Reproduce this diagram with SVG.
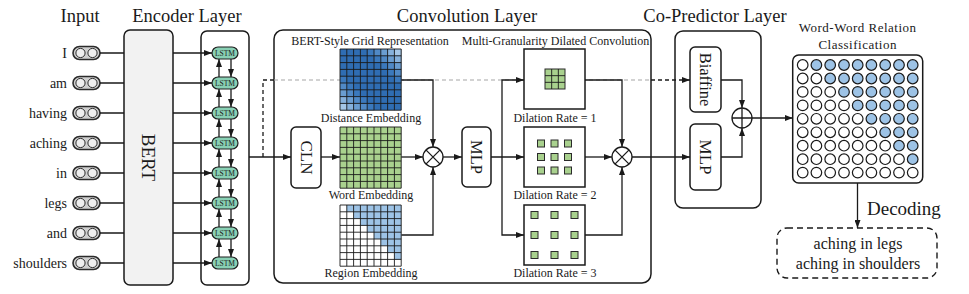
<svg xmlns="http://www.w3.org/2000/svg" xmlns:xlink="http://www.w3.org/1999/xlink" width="969" height="294" viewBox="0 0 969 294">
<style>
text{font-family:"Liberation Serif","Times New Roman",serif;fill:#1a1a1a}
.t{font-size:18.5px;text-anchor:middle}
.w{font-size:14px;text-anchor:end}
.lb{font-size:12px;text-anchor:middle}
.rt{text-anchor:middle;dominant-baseline:central}
.ls{font-size:7.5px;text-anchor:middle}
.ln{fill:none;stroke:#1a1a1a;stroke-width:1.3}
.a{marker-end:url(#ah)}
.box{fill:#fff;stroke:#1a1a1a;stroke-width:1.5}
.pill{fill:#cfcfcf;stroke:#2b2b2b;stroke-width:1.6}
.pc{fill:#efefef;stroke:#2b2b2b;stroke-width:1}
.lstm{fill:#88d0b4;stroke:#1f1f1f;stroke-width:1.2}
.gl{fill:none;stroke:#1a1a1a;stroke-width:0.9}
.gr{fill:#a9d18e;stroke:#2b2b2b;stroke-width:1}
.cw{fill:#fff;stroke:#1a1a1a;stroke-width:1.2}
.cb{fill:#9dc3e6;stroke:#1a1a1a;stroke-width:1.2}
.dsh{stroke-dasharray:4 3}
.op{fill:#fff;stroke:#1a1a1a;stroke-width:1.3}
</style>
<defs>
<marker id="ah" viewBox="0 0 8 6" refX="8" refY="3" markerWidth="8" markerHeight="6" markerUnits="userSpaceOnUse" orient="auto"><path d="M0,0L8,3L0,6z" fill="#1a1a1a"/></marker>
<path id="grid9" d="M0,0V61.2M6.8,0V61.2M13.6,0V61.2M20.4,0V61.2M27.2,0V61.2M34,0V61.2M40.8,0V61.2M47.6,0V61.2M54.4,0V61.2M61.2,0V61.2M0,0H61.2M0,6.8H61.2M0,13.6H61.2M0,20.4H61.2M0,27.2H61.2M0,34H61.2M0,40.8H61.2M0,47.6H61.2M0,54.4H61.2M0,61.2H61.2"/>
</defs>
<rect width="969" height="294" fill="#fff"/>

<!-- titles -->
<text class="t" x="80" y="22">Input</text>
<text class="t" x="187" y="22">Encoder Layer</text>
<text class="t" x="467" y="22">Convolution Layer</text>
<text class="t" x="715" y="22">Co-Predictor Layer</text>

<!-- containers -->
<g id="bert"><rect x="124" y="30" width="49" height="255" rx="6" fill="#f2f2f2" stroke="#1a1a1a" stroke-width="1.5"/><text class="rt" font-size="19" transform="translate(148.5,157.5) rotate(90)">BERT</text></g>
<g id="lstm-layer"><rect class="box" x="201" y="31" width="48" height="254" rx="6"/></g>
<g id="convolution-layer"><rect class="box" x="274" y="30" width="377" height="253" rx="9"/></g>
<g id="co-predictor-layer"><rect class="box" x="675" y="31" width="86" height="177" rx="8"/></g>

<!-- inputs -->
<g id="in-I"><text class="w" x="67" y="57.5">I</text><rect class="pill" x="73" y="46.5" width="27" height="13" rx="6.5"/><circle class="pc" cx="80.5" cy="53" r="4.6"/><circle class="pc" cx="92.5" cy="53" r="4.6"/></g>
<g id="in-am"><text class="w" x="67" y="87.5">am</text><rect class="pill" x="73" y="76.5" width="27" height="13" rx="6.5"/><circle class="pc" cx="80.5" cy="83" r="4.6"/><circle class="pc" cx="92.5" cy="83" r="4.6"/></g>
<g id="in-having"><text class="w" x="67" y="117.5">having</text><rect class="pill" x="73" y="106.5" width="27" height="13" rx="6.5"/><circle class="pc" cx="80.5" cy="113" r="4.6"/><circle class="pc" cx="92.5" cy="113" r="4.6"/></g>
<g id="in-aching"><text class="w" x="67" y="147.5">aching</text><rect class="pill" x="73" y="136.5" width="27" height="13" rx="6.5"/><circle class="pc" cx="80.5" cy="143" r="4.6"/><circle class="pc" cx="92.5" cy="143" r="4.6"/></g>
<g id="in-in"><text class="w" x="67" y="177.5">in</text><rect class="pill" x="73" y="166.5" width="27" height="13" rx="6.5"/><circle class="pc" cx="80.5" cy="173" r="4.6"/><circle class="pc" cx="92.5" cy="173" r="4.6"/></g>
<g id="in-legs"><text class="w" x="67" y="207.5">legs</text><rect class="pill" x="73" y="196.5" width="27" height="13" rx="6.5"/><circle class="pc" cx="80.5" cy="203" r="4.6"/><circle class="pc" cx="92.5" cy="203" r="4.6"/></g>
<g id="in-and"><text class="w" x="67" y="237.5">and</text><rect class="pill" x="73" y="226.5" width="27" height="13" rx="6.5"/><circle class="pc" cx="80.5" cy="233" r="4.6"/><circle class="pc" cx="92.5" cy="233" r="4.6"/></g>
<g id="in-shoulders"><text class="w" x="67" y="267.5">shoulders</text><rect class="pill" x="73" y="256.5" width="27" height="13" rx="6.5"/><circle class="pc" cx="80.5" cy="263" r="4.6"/><circle class="pc" cx="92.5" cy="263" r="4.6"/></g>

<!-- connectors -->
<g id="connectors">
<path class="ln" d="M100,53H124M100,83H124M100,113H124M100,143H124M100,173H124M100,203H124M100,233H124M100,263H124"/>
<path class="ln a" d="M173,53H212"/><path class="ln a" d="M173,83H212"/><path class="ln a" d="M173,113H212"/><path class="ln a" d="M173,143H212"/><path class="ln a" d="M173,173H212"/><path class="ln a" d="M173,203H212"/><path class="ln a" d="M173,233H212"/><path class="ln a" d="M173,263H212"/>
<path class="ln a" d="M219,77V59"/><path class="ln a" d="M231,59V77"/>
<path class="ln a" d="M219,107V89"/><path class="ln a" d="M231,89V107"/>
<path class="ln a" d="M219,137V119"/><path class="ln a" d="M231,119V137"/>
<path class="ln a" d="M219,167V149"/><path class="ln a" d="M231,149V167"/>
<path class="ln a" d="M219,197V179"/><path class="ln a" d="M231,179V197"/>
<path class="ln a" d="M219,227V209"/><path class="ln a" d="M231,209V227"/>
<path class="ln a" d="M219,257V239"/><path class="ln a" d="M231,239V257"/>
<path class="ln a" d="M249,157H291"/>
<path class="ln dsh" d="M263,157V80H274"/>
<path class="dsh" d="M274,80H651" fill="none" stroke="#a6a6a6" stroke-width="1.2"/>
<path class="ln dsh a" d="M651,80H690"/>
<path class="ln a" d="M321,157H340"/>
<path class="ln a" d="M401.2,80H433V147"/>
<path class="ln a" d="M401.2,157H423"/>
<path class="ln a" d="M401.2,235H433V167"/>
<path class="ln a" d="M443,157H462"/>
<path class="ln a" d="M491,157H524"/>
<path class="ln a" d="M502,157V80H524"/>
<path class="ln a" d="M502,157V235H524"/>
<path class="ln a" d="M585,80H622V147"/>
<path class="ln a" d="M585,157H612"/>
<path class="ln a" d="M585,235H622V167"/>
<path class="ln a" d="M632,157H690"/>
<path class="ln a" d="M721,80H742V108"/>
<path class="ln a" d="M721,157H742V128"/>
<path class="ln a" d="M752,118H792.7"/>
<path class="ln a" d="M857.5,183V228"/>
</g>

<!-- LSTM cells -->
<g id="lstm-cells">
<rect class="lstm" x="212" y="47" width="26" height="12" rx="6"/><text class="ls" x="225" y="55.6">LSTM</text>
<rect class="lstm" x="212" y="77" width="26" height="12" rx="6"/><text class="ls" x="225" y="85.6">LSTM</text>
<rect class="lstm" x="212" y="107" width="26" height="12" rx="6"/><text class="ls" x="225" y="115.6">LSTM</text>
<rect class="lstm" x="212" y="137" width="26" height="12" rx="6"/><text class="ls" x="225" y="145.6">LSTM</text>
<rect class="lstm" x="212" y="167" width="26" height="12" rx="6"/><text class="ls" x="225" y="175.6">LSTM</text>
<rect class="lstm" x="212" y="197" width="26" height="12" rx="6"/><text class="ls" x="225" y="205.6">LSTM</text>
<rect class="lstm" x="212" y="227" width="26" height="12" rx="6"/><text class="ls" x="225" y="235.6">LSTM</text>
<rect class="lstm" x="212" y="257" width="26" height="12" rx="6"/><text class="ls" x="225" y="265.6">LSTM</text>
</g>

<!-- convolution layer contents -->
<text class="lb" x="370" y="45">BERT-Style Grid Representation</text>
<text class="lb" x="555.5" y="45">Multi-Granularity Dilated Convolution</text>

<g id="cln"><rect class="box" x="291" y="127" width="30" height="61" rx="5"/><text class="rt" font-size="17" transform="translate(306,157.5) rotate(90)">CLN</text></g>

<g id="distance-embedding">
<g transform="translate(340,49)">
<rect width="61.2" height="61.2" fill="#2f6db3"/>
<path fill="#3b79bd" d="M27.2,0h6.8v6.8h-6.8zM34,6.8h6.8v6.8h-6.8zM40.8,13.6h6.8v6.8h-6.8zM47.6,20.4h6.8v6.8h-6.8zM54.4,27.2h6.8v6.8h-6.8zM0,27.2h6.8v6.8h-6.8zM6.8,34h6.8v6.8h-6.8zM13.6,40.8h6.8v6.8h-6.8zM20.4,47.6h6.8v6.8h-6.8zM27.2,54.4h6.8v6.8h-6.8z"/>
<path fill="#5089c6" d="M34,0h6.8v6.8h-6.8zM40.8,6.8h6.8v6.8h-6.8zM47.6,13.6h6.8v6.8h-6.8zM54.4,20.4h6.8v6.8h-6.8zM0,34h6.8v6.8h-6.8zM6.8,40.8h6.8v6.8h-6.8zM13.6,47.6h6.8v6.8h-6.8zM20.4,54.4h6.8v6.8h-6.8z"/>
<path fill="#6a9dd1" d="M40.8,0h6.8v6.8h-6.8zM47.6,6.8h6.8v6.8h-6.8zM54.4,13.6h6.8v6.8h-6.8zM0,40.8h6.8v6.8h-6.8zM6.8,47.6h6.8v6.8h-6.8zM13.6,54.4h6.8v6.8h-6.8z"/>
<path fill="#86b1dc" d="M47.6,0h6.8v6.8h-6.8zM54.4,6.8h6.8v6.8h-6.8zM0,47.6h6.8v6.8h-6.8zM6.8,54.4h6.8v6.8h-6.8z"/>
<path fill="#a4c6e7" d="M54.4,0h6.8v6.8h-6.8zM0,54.4h6.8v6.8h-6.8z"/>
<use xlink:href="#grid9" class="gl"/>
</g>
<text class="lb" x="371" y="122">Distance Embedding</text>
</g>

<g id="word-embedding">
<g transform="translate(340,127)">
<rect width="61.2" height="61.2" fill="#a9d18e"/>
<use xlink:href="#grid9" class="gl"/>
</g>
<text class="lb" x="371" y="199">Word Embedding</text>
</g>

<g id="region-embedding">
<g transform="translate(340,205)">
<rect width="61.2" height="61.2" fill="#fff"/>
<path fill="#9dc3e6" d="M6.8,0H61.2V54.4H54.4V47.6H47.6V40.8H40.8V34H34V27.2H27.2V20.4H20.4V13.6H13.6V6.8H6.8Z"/>
<use xlink:href="#grid9" class="gl"/>
</g>
<text class="lb" x="371" y="277">Region Embedding</text>
</g>

<g id="otimes-1"><circle class="op" cx="433" cy="157" r="10"/><path class="ln" d="M425.9,149.9L440.1,164.1M440.1,149.9L425.9,164.1"/></g>

<g id="conv-mlp"><rect class="box" x="462" y="127" width="29" height="60" rx="5"/><text class="rt" font-size="16.5" transform="translate(476.5,157) rotate(90)">MLP</text></g>

<g id="dilation-1">
<rect class="box" x="524" y="49" width="61" height="60"/>
<rect class="gr" x="545" y="69" width="20" height="20"/>
<path class="gl" d="M551.67,69V89M558.33,69V89M545,75.67H565M545,82.33H565"/>
<text class="lb" x="555" y="122">Dilation Rate = 1</text>
</g>
<g id="dilation-2">
<rect class="box" x="524" y="127" width="61" height="60"/>
<rect class="gr" x="537.5" y="140" width="7" height="7"/><rect class="gr" x="551" y="140" width="7" height="7"/><rect class="gr" x="564.5" y="140" width="7" height="7"/>
<rect class="gr" x="537.5" y="153.5" width="7" height="7"/><rect class="gr" x="551" y="153.5" width="7" height="7"/><rect class="gr" x="564.5" y="153.5" width="7" height="7"/>
<rect class="gr" x="537.5" y="167" width="7" height="7"/><rect class="gr" x="551" y="167" width="7" height="7"/><rect class="gr" x="564.5" y="167" width="7" height="7"/>
<text class="lb" x="555" y="199">Dilation Rate = 2</text>
</g>
<g id="dilation-3">
<rect class="box" x="524" y="205" width="61" height="60"/>
<rect class="gr" x="531" y="211.5" width="7" height="7"/><rect class="gr" x="551" y="211.5" width="7" height="7"/><rect class="gr" x="571" y="211.5" width="7" height="7"/>
<rect class="gr" x="531" y="231.5" width="7" height="7"/><rect class="gr" x="551" y="231.5" width="7" height="7"/><rect class="gr" x="571" y="231.5" width="7" height="7"/>
<rect class="gr" x="531" y="251.5" width="7" height="7"/><rect class="gr" x="551" y="251.5" width="7" height="7"/><rect class="gr" x="571" y="251.5" width="7" height="7"/>
<text class="lb" x="555" y="277">Dilation Rate = 3</text>
</g>

<g id="otimes-2"><circle class="op" cx="622" cy="157" r="10"/><path class="ln" d="M614.9,149.9L629.1,164.1M629.1,149.9L614.9,164.1"/></g>

<!-- co-predictor -->
<g id="biaffine"><rect class="box" x="690" y="47" width="31" height="65" rx="5"/><text class="rt" font-size="16.5" transform="translate(705.5,79.5) rotate(90)">Biaffine</text></g>
<g id="co-mlp"><rect class="box" x="690" y="124" width="31" height="66" rx="5"/><text class="rt" font-size="17" transform="translate(705.5,157) rotate(90)">MLP</text></g>
<g id="oplus"><circle class="op" cx="742" cy="118" r="10"/><path class="ln" d="M732,118H752M742,108V128"/></g>

<!-- word-word relation -->
<g id="word-word-relation">
<text x="857.7" y="32" font-size="13" letter-spacing="0.5" text-anchor="middle">Word-Word Relation</text>
<text x="857.7" y="49" font-size="13" letter-spacing="0.5" text-anchor="middle">Classification</text>
<rect class="box" x="792.7" y="55" width="130" height="128" rx="6"/>
<g transform="translate(0,65)"><circle class="cw" cx="802.7" r="5.3"/><circle class="cb" cx="816.4" r="5.3"/><circle class="cb" cx="830.2" r="5.3"/><circle class="cb" cx="844" r="5.3"/><circle class="cb" cx="857.7" r="5.3"/><circle class="cb" cx="871.4" r="5.3"/><circle class="cb" cx="885.2" r="5.3"/><circle class="cb" cx="899" r="5.3"/><circle class="cb" cx="912.7" r="5.3"/></g>
<g transform="translate(0,78.5)"><circle class="cw" cx="802.7" r="5.3"/><circle class="cw" cx="816.4" r="5.3"/><circle class="cb" cx="830.2" r="5.3"/><circle class="cb" cx="844" r="5.3"/><circle class="cb" cx="857.7" r="5.3"/><circle class="cb" cx="871.4" r="5.3"/><circle class="cb" cx="885.2" r="5.3"/><circle class="cb" cx="899" r="5.3"/><circle class="cb" cx="912.7" r="5.3"/></g>
<g transform="translate(0,91.9)"><circle class="cw" cx="802.7" r="5.3"/><circle class="cw" cx="816.4" r="5.3"/><circle class="cw" cx="830.2" r="5.3"/><circle class="cb" cx="844" r="5.3"/><circle class="cb" cx="857.7" r="5.3"/><circle class="cb" cx="871.4" r="5.3"/><circle class="cb" cx="885.2" r="5.3"/><circle class="cb" cx="899" r="5.3"/><circle class="cb" cx="912.7" r="5.3"/></g>
<g transform="translate(0,105.4)"><circle class="cw" cx="802.7" r="5.3"/><circle class="cw" cx="816.4" r="5.3"/><circle class="cw" cx="830.2" r="5.3"/><circle class="cw" cx="844" r="5.3"/><circle class="cb" cx="857.7" r="5.3"/><circle class="cb" cx="871.4" r="5.3"/><circle class="cb" cx="885.2" r="5.3"/><circle class="cb" cx="899" r="5.3"/><circle class="cb" cx="912.7" r="5.3"/></g>
<g transform="translate(0,118.8)"><circle class="cw" cx="802.7" r="5.3"/><circle class="cw" cx="816.4" r="5.3"/><circle class="cw" cx="830.2" r="5.3"/><circle class="cw" cx="844" r="5.3"/><circle class="cw" cx="857.7" r="5.3"/><circle class="cb" cx="871.4" r="5.3"/><circle class="cb" cx="885.2" r="5.3"/><circle class="cb" cx="899" r="5.3"/><circle class="cb" cx="912.7" r="5.3"/></g>
<g transform="translate(0,132.3)"><circle class="cw" cx="802.7" r="5.3"/><circle class="cw" cx="816.4" r="5.3"/><circle class="cw" cx="830.2" r="5.3"/><circle class="cw" cx="844" r="5.3"/><circle class="cw" cx="857.7" r="5.3"/><circle class="cw" cx="871.4" r="5.3"/><circle class="cb" cx="885.2" r="5.3"/><circle class="cb" cx="899" r="5.3"/><circle class="cb" cx="912.7" r="5.3"/></g>
<g transform="translate(0,145.7)"><circle class="cw" cx="802.7" r="5.3"/><circle class="cw" cx="816.4" r="5.3"/><circle class="cw" cx="830.2" r="5.3"/><circle class="cw" cx="844" r="5.3"/><circle class="cw" cx="857.7" r="5.3"/><circle class="cw" cx="871.4" r="5.3"/><circle class="cw" cx="885.2" r="5.3"/><circle class="cb" cx="899" r="5.3"/><circle class="cb" cx="912.7" r="5.3"/></g>
<g transform="translate(0,159.2)"><circle class="cw" cx="802.7" r="5.3"/><circle class="cw" cx="816.4" r="5.3"/><circle class="cw" cx="830.2" r="5.3"/><circle class="cw" cx="844" r="5.3"/><circle class="cw" cx="857.7" r="5.3"/><circle class="cw" cx="871.4" r="5.3"/><circle class="cw" cx="885.2" r="5.3"/><circle class="cw" cx="899" r="5.3"/><circle class="cb" cx="912.7" r="5.3"/></g>
<g transform="translate(0,172.6)"><circle class="cw" cx="802.7" r="5.3"/><circle class="cw" cx="816.4" r="5.3"/><circle class="cw" cx="830.2" r="5.3"/><circle class="cw" cx="844" r="5.3"/><circle class="cw" cx="857.7" r="5.3"/><circle class="cw" cx="871.4" r="5.3"/><circle class="cw" cx="885.2" r="5.3"/><circle class="cw" cx="899" r="5.3"/><circle class="cw" cx="912.7" r="5.3"/></g>
</g>

<!-- decoding -->
<text x="867" y="215" font-size="19">Decoding</text>
<g id="decoding-output">
<rect x="777" y="228" width="160" height="50" rx="10" fill="#fff" stroke="#1a1a1a" stroke-width="1.4" stroke-dasharray="6 4"/>
<text x="858" y="249" font-size="16" text-anchor="middle">aching in legs</text>
<text x="858" y="269" font-size="16" text-anchor="middle">aching in shoulders</text>
</g>
</svg>
